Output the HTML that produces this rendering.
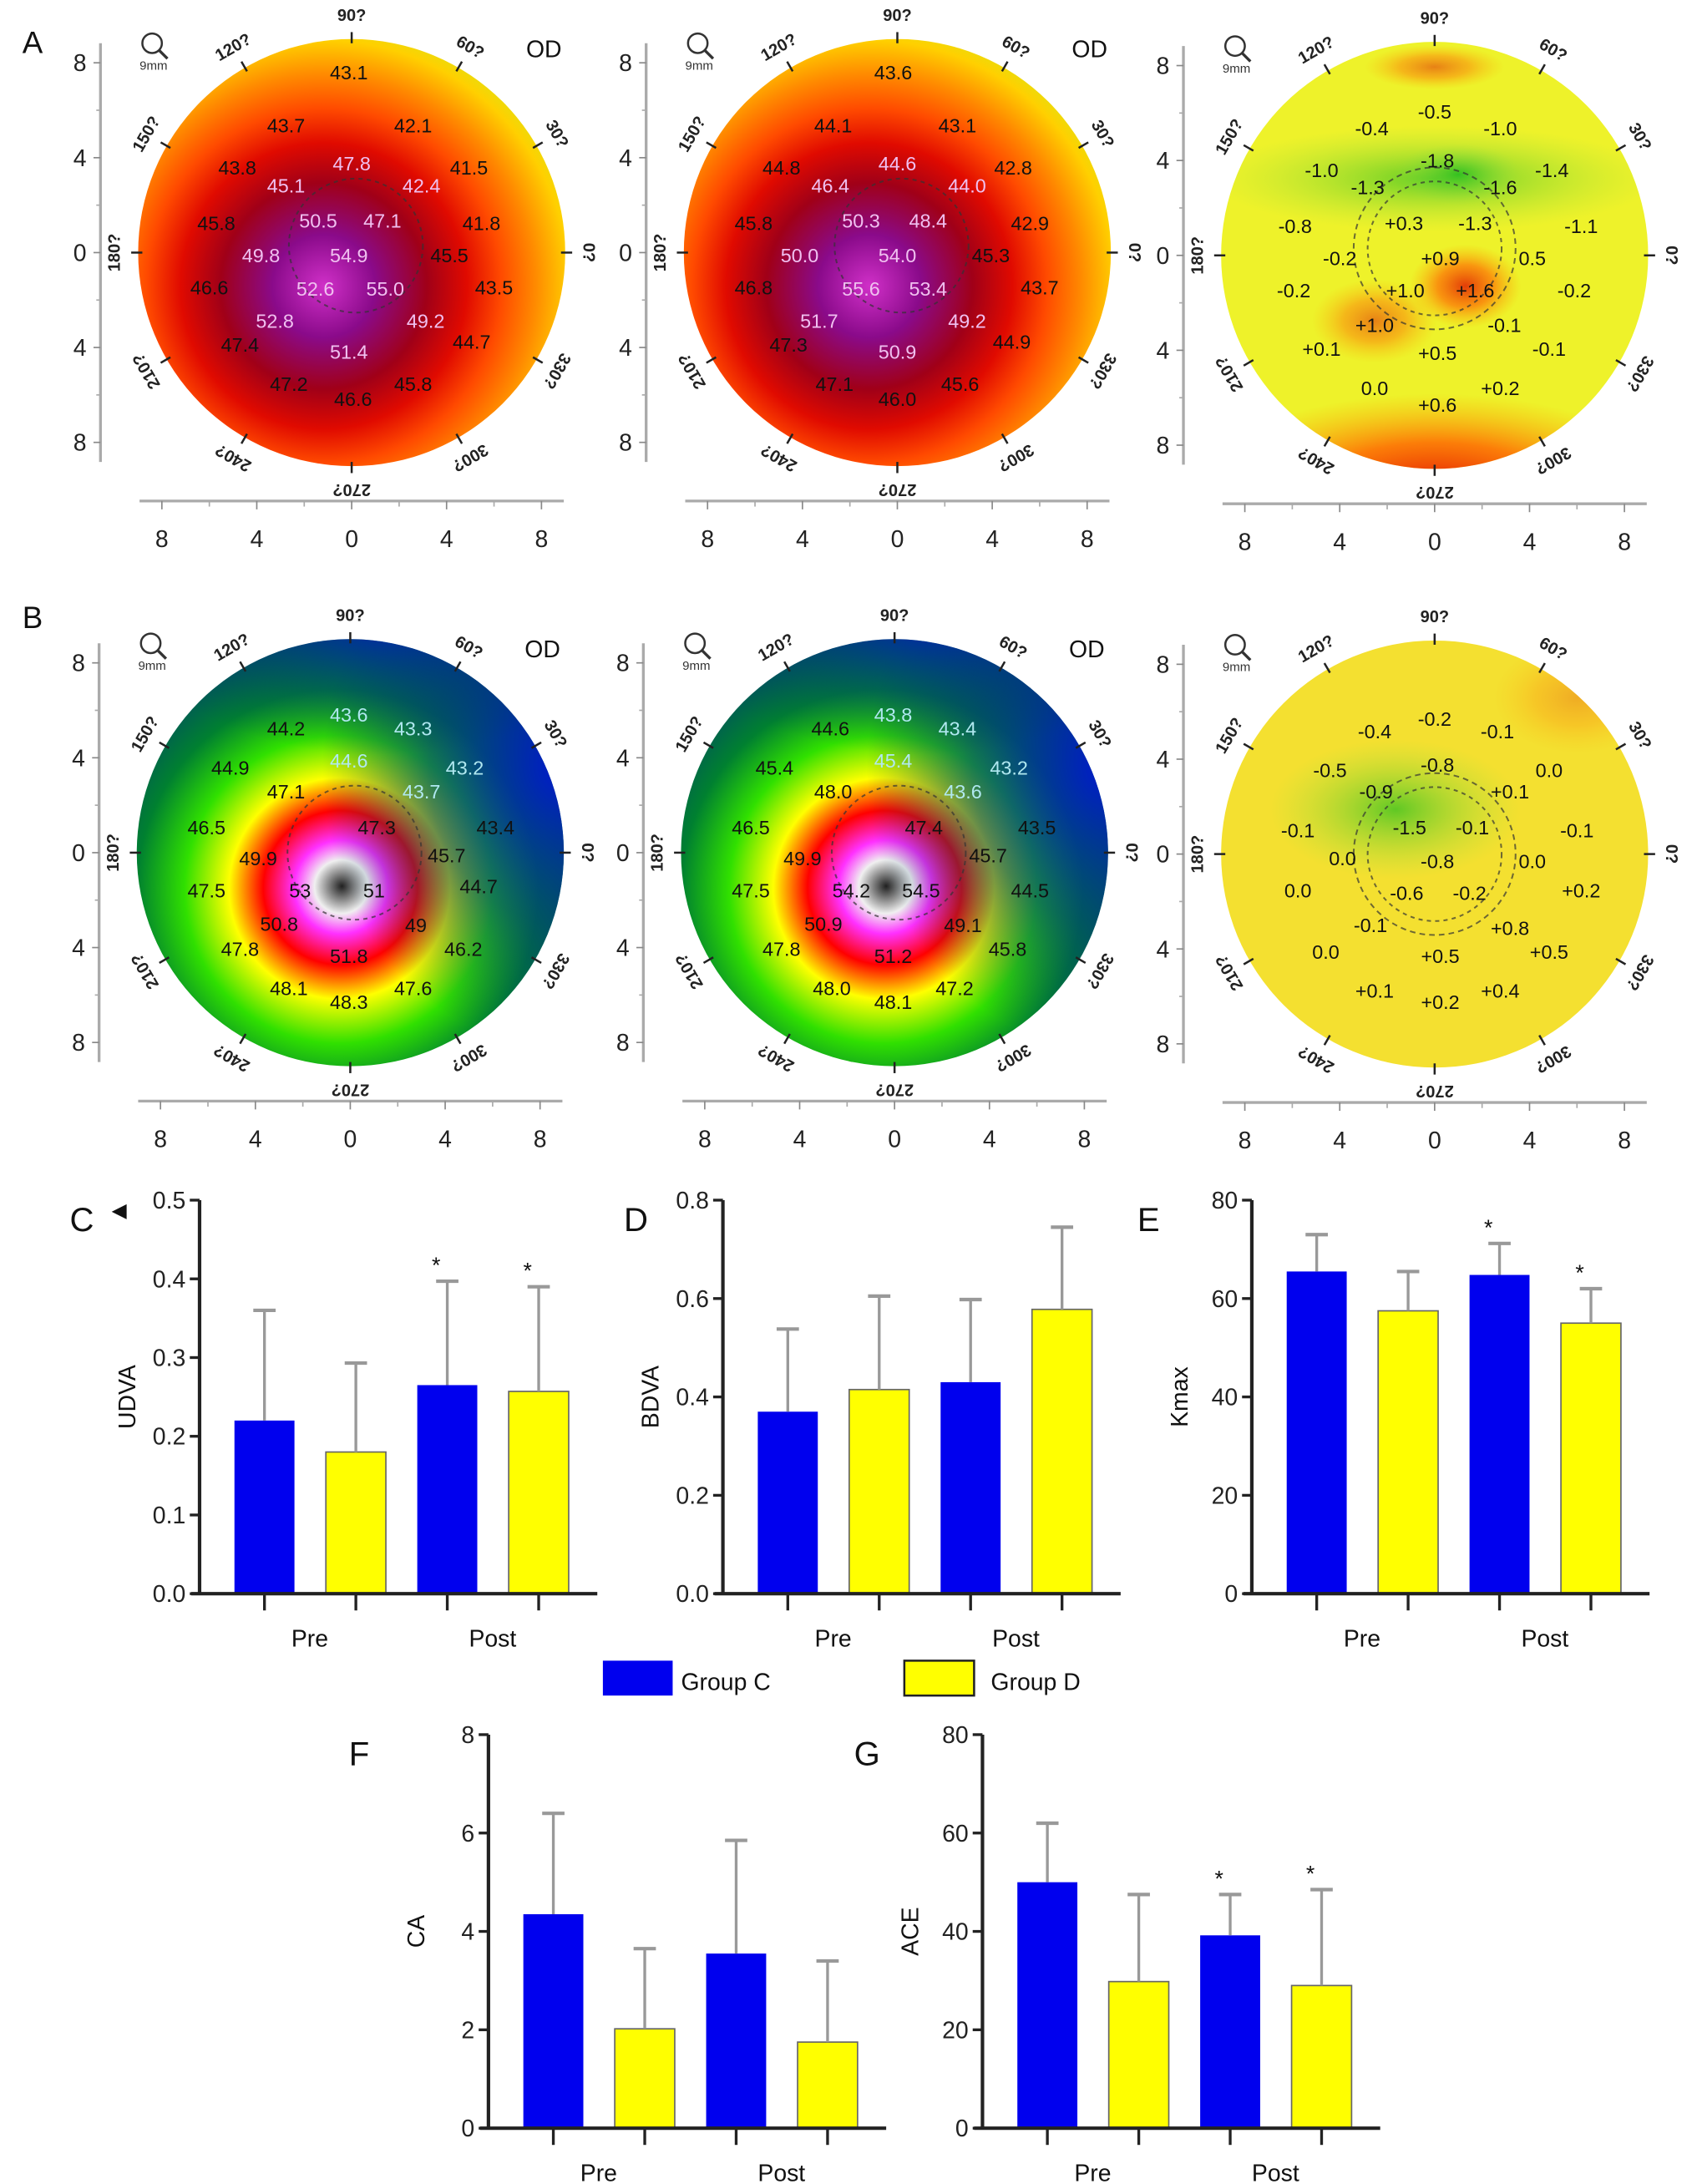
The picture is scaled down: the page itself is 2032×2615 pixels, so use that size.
<!DOCTYPE html>
<html><head><meta charset="utf-8"><style>
html,body{margin:0;padding:0;background:#fff;width:2032px;height:2615px;overflow:hidden}
svg{display:block;font-family:"Liberation Sans",Arial,sans-serif}
</style></head><body>
<svg id="fig" width="2032" height="2615" viewBox="0 0 1216 1565" preserveAspectRatio="none" xmlns="http://www.w3.org/2000/svg">
<defs>
<radialGradient id="gA1" gradientUnits="userSpaceOnUse" cx="232" cy="205" r="205" fx="232" fy="205">
<stop offset="0" stop-color="#d030c8"/><stop offset="0.18" stop-color="#8a0a8a"/><stop offset="0.36" stop-color="#a00018"/><stop offset="0.5" stop-color="#e00a00"/><stop offset="0.62" stop-color="#ff4a00"/><stop offset="0.74" stop-color="#ff8a00"/><stop offset="0.86" stop-color="#ffd000"/><stop offset="1" stop-color="#c8f020"/></radialGradient>
<radialGradient id="gA2" gradientUnits="userSpaceOnUse" cx="623" cy="205" r="205" fx="623" fy="205">
<stop offset="0" stop-color="#d030c8"/><stop offset="0.18" stop-color="#8a0a8a"/><stop offset="0.36" stop-color="#a00018"/><stop offset="0.5" stop-color="#e00a00"/><stop offset="0.62" stop-color="#ff4a00"/><stop offset="0.74" stop-color="#ff8a00"/><stop offset="0.86" stop-color="#ffd000"/><stop offset="1" stop-color="#c8f020"/></radialGradient>
<radialGradient id="gB1" gradientUnits="userSpaceOnUse" cx="240" cy="640" r="240" fx="245" fy="635">
<stop offset="0" stop-color="#202020"/><stop offset="0.08" stop-color="#f0f0f0"/><stop offset="0.14" stop-color="#ff30ff"/><stop offset="0.23" stop-color="#ff0000"/><stop offset="0.33" stop-color="#ffff00"/><stop offset="0.46" stop-color="#30e000"/><stop offset="0.6" stop-color="#008030"/><stop offset="0.75" stop-color="#005060"/><stop offset="0.9" stop-color="#0010e0"/><stop offset="1" stop-color="#40e0ff"/></radialGradient>
<radialGradient id="gB2" gradientUnits="userSpaceOnUse" cx="630" cy="640" r="240" fx="635" fy="635">
<stop offset="0" stop-color="#202020"/><stop offset="0.08" stop-color="#f0f0f0"/><stop offset="0.14" stop-color="#ff30ff"/><stop offset="0.23" stop-color="#ff0000"/><stop offset="0.33" stop-color="#ffff00"/><stop offset="0.46" stop-color="#30e000"/><stop offset="0.6" stop-color="#008030"/><stop offset="0.75" stop-color="#005060"/><stop offset="0.9" stop-color="#0010e0"/><stop offset="1" stop-color="#40e0ff"/></radialGradient>
<radialGradient id="gBlue"><stop offset="0" stop-color="#0018d0" stop-opacity="0.95"/><stop offset="0.55" stop-color="#003a80" stop-opacity="0.6"/><stop offset="1" stop-color="#004060" stop-opacity="0"/></radialGradient>
<radialGradient id="gGreen"><stop offset="0" stop-color="#30c020" stop-opacity="0.95"/><stop offset="1" stop-color="#a0e040" stop-opacity="0"/></radialGradient>
<radialGradient id="gRed"><stop offset="0" stop-color="#e01000"/><stop offset="0.5" stop-color="#ff6000" stop-opacity="0.8"/><stop offset="1" stop-color="#ffa000" stop-opacity="0"/></radialGradient>
<clipPath id="c1b"><circle cx="251" cy="611" r="153"/></clipPath>
<clipPath id="c2b"><circle cx="641" cy="611" r="153"/></clipPath>
<clipPath id="c3a"><circle cx="1028" cy="183" r="153"/></clipPath>
<clipPath id="c3b"><circle cx="1028" cy="612" r="153"/></clipPath>
</defs>
<g id="maps"></g>
<g id="charts"></g>
</svg>
<script>
const NS="http://www.w3.org/2000/svg";
const maps=document.getElementById('maps');
const charts=document.getElementById('charts');
function mk(p,tag,at,txt){const e=document.createElementNS(NS,tag);for(const k in at)e.setAttribute(k,at[k]);if(txt!==undefined)e.textContent=txt;p.appendChild(e);return e;}

// ---------- topography maps ----------
const mapCenters=[[252,181],[643,181],[1028,183],[251,611],[641,611],[1028,612]];
const mapFills=['url(#gA1)','url(#gA2)','#eef22a','url(#gB1)','url(#gB2)','#f4e030'];
const degLabels=['0?','30?','60?','90?','120?','150?','180?','210?','240?','270?','300?','330?'];
const A1=[["43.1",250,52],["43.7",205,90],["42.1",296,90],["43.8",170,120],["47.8",252,117],["41.5",336,120],["45.1",205,133],["42.4",302,133],["45.8",155,160],["50.5",228,158],["47.1",274,158],["41.8",345,160],["49.8",187,183],["54.9",250,183],["45.5",322,183],["46.6",150,206],["52.6",226,207],["55.0",276,207],["43.5",354,206],["52.8",197,230],["49.2",305,230],["44.7",338,245],["47.4",172,247],["51.4",250,252],["47.2",207,275],["45.8",296,275],["46.6",253,286]];
const A2=[["43.6",640,52],["44.1",597,90],["43.1",686,90],["44.8",560,120],["44.6",643,117],["42.8",726,120],["46.4",595,133],["44.0",693,133],["45.8",540,160],["50.3",617,158],["48.4",665,158],["42.9",738,160],["50.0",573,183],["54.0",643,183],["45.3",710,183],["46.8",540,206],["55.6",617,207],["53.4",665,207],["43.7",745,206],["51.7",587,230],["49.2",693,230],["44.9",725,245],["47.3",565,247],["50.9",643,252],["47.1",598,275],["45.6",688,275],["46.0",643,286]];
const A3=[["-0.5",1028,80],["-0.4",983,92],["-1.0",1075,92],["-1.0",947,122],["-1.8",1030,115],["-1.4",1112,122],["-1.3",980,134],["-1.6",1075,134],["-0.8",928,162],["+0.3",1006,160],["-1.3",1057,160],["-1.1",1133,162],["-0.2",960,185],["+0.9",1032,185],["0.5",1098,185],["-0.2",927,208],["+1.0",1007,208],["+1.6",1057,208],["-0.2",1128,208],["+1.0",985,233],["-0.1",1078,233],["+0.1",947,250],["+0.5",1030,253],["-0.1",1110,250],["0.0",985,278],["+0.2",1075,278],["+0.6",1030,290]];
const B1=[["43.6",250,512],["44.2",205,522],["43.3",296,522],["44.9",165,550],["44.6",250,545],["43.2",333,550],["47.1",205,567],["43.7",302,567],["46.5",148,593],["47.3",270,593],["43.4",355,593],["49.9",185,615],["45.7",320,613],["47.5",148,638],["53",215,638],["51",268,638],["44.7",343,635],["50.8",200,662],["49",298,663],["46.2",332,680],["47.8",172,680],["51.8",250,685],["48.1",207,708],["47.6",296,708],["48.3",250,718]];
const B2=[["43.8",640,512],["44.6",595,522],["43.4",686,522],["45.4",555,550],["45.4",640,545],["43.2",723,550],["48.0",597,567],["43.6",690,567],["46.5",538,593],["47.4",662,593],["43.5",743,593],["49.9",575,615],["45.7",708,613],["47.5",538,638],["54.2",610,638],["54.5",660,638],["44.5",738,638],["50.9",590,662],["49.1",690,663],["45.8",722,680],["47.8",560,680],["51.2",640,685],["48.0",596,708],["47.2",684,708],["48.1",640,718]];
const B3=[["-0.2",1028,515],["-0.4",985,524],["-0.1",1073,524],["-0.5",953,552],["-0.8",1030,548],["0.0",1110,552],["-0.9",986,567],["+0.1",1082,567],["-0.1",930,595],["-1.5",1010,593],["-0.1",1055,593],["-0.1",1130,595],["0.0",962,615],["-0.8",1030,617],["0.0",1098,617],["0.0",930,638],["-0.6",1008,640],["-0.2",1053,640],["+0.2",1133,638],["-0.1",982,663],["+0.8",1082,665],["0.0",950,682],["+0.5",1032,685],["+0.5",1110,682],["+0.1",985,710],["+0.2",1032,718],["+0.4",1075,710]];
const mapValues=[A1,A2,A3,B1,B2,B3];
const axisTicks=['8','4','0','4','8'];

mapCenters.forEach((c,i)=>{
  const [cx,cy]=c;
  const g=mk(maps,'g',{});
  
  
  const ax=cx-180;
  mk(g,'line',{x1:ax,y1:cy-150,x2:ax,y2:cy+150,stroke:'#aaa','stroke-width':2});
  axisTicks.forEach((t,k)=>{const y=cy-136+k*68;
    mk(g,'line',{x1:ax-5,y1:y,x2:ax,y2:y,stroke:'#888','stroke-width':1});
    if(k<4)mk(g,'line',{x1:ax-3,y1:y+34,x2:ax,y2:y+34,stroke:'#aaa'});
    mk(g,'text',{x:ax-10,y:y+6,'font-size':17,'text-anchor':'end',fill:'#222'},t);});
  const by=cy+178;
  mk(g,'line',{x1:cx-152,y1:by,x2:cx+152,y2:by,stroke:'#aaa','stroke-width':2});
  axisTicks.forEach((t,k)=>{const x=cx-136+k*68;
    mk(g,'line',{x1:x,y1:by,x2:x,y2:by+6,stroke:'#888'});
    if(k<4)mk(g,'line',{x1:x+34,y1:by,x2:x+34,y2:by+4,stroke:'#aaa'});
    mk(g,'text',{x:x,y:by+33,'font-size':17,'text-anchor':'middle',fill:'#222'},t);});
  mk(g,'circle',{cx:cx,cy:cy,r:153,fill:mapFills[i]});
  if(i===3||i===4){
    const cg=mk(g,'g',{'clip-path':i===3?'url(#c1b)':'url(#c2b)'});
    mk(cg,'ellipse',{cx:cx+150,cy:cy-60,rx:170,ry:200,fill:'url(#gBlue)'});
    mk(cg,'ellipse',{cx:cx+20,cy:cy-160,rx:170,ry:90,fill:'url(#gBlue)',opacity:0.6});
  }
  if(i===2||i===5){
    const cg=mk(g,'g',{'clip-path':i===2?'url(#c3a)':'url(#c3b)'});
    if(i===2){
      mk(cg,'ellipse',{cx:1028,cy:128,rx:160,ry:38,fill:'url(#gGreen)',opacity:0.8});
      mk(cg,'ellipse',{cx:1045,cy:125,rx:45,ry:22,fill:'url(#gGreen)'});
      mk(cg,'ellipse',{cx:1028,cy:352,rx:170,ry:70,fill:'url(#gRed)'});
      mk(cg,'ellipse',{cx:1050,cy:205,rx:40,ry:30,fill:'url(#gRed)',opacity:0.8});
      mk(cg,'ellipse',{cx:985,cy:230,rx:45,ry:30,fill:'url(#gRed)',opacity:0.5});
      mk(cg,'ellipse',{cx:1028,cy:48,rx:50,ry:16,fill:'url(#gRed)',opacity:0.5});
    } else {
      mk(cg,'ellipse',{cx:1000,cy:580,rx:90,ry:50,fill:'url(#gGreen)',opacity:0.8});
      mk(cg,'ellipse',{cx:1130,cy:500,rx:60,ry:40,fill:'url(#gRed)',opacity:0.25});
    }
  }
  mk(g,'circle',{cx:cx+(i%3==2?0:3),cy:cy+(i<3?-5:0),r:48,fill:'none',stroke:'#333','stroke-width':1.2,'stroke-dasharray':'3 3',opacity:0.7});
  if(i%3==2) mk(g,'circle',{cx:cx,cy:cy+(i<3?-5:0),r:58,fill:'none',stroke:'#333','stroke-width':1.2,'stroke-dasharray':'4 3',opacity:0.7});
  for(let a=0;a<360;a+=30){const r=a*Math.PI/180;
    mk(g,'line',{x1:cx+150*Math.cos(r),y1:cy-150*Math.sin(r),x2:cx+158*Math.cos(r),y2:cy-158*Math.sin(r),stroke:'#222','stroke-width':1.5});
    const lx=cx+170*Math.cos(r),ly=cy-170*Math.sin(r);
    mk(g,'text',{x:lx,y:ly+4,'font-size':12,'font-weight':'bold','text-anchor':'middle',fill:'#222',transform:`rotate(${90-a} ${lx} ${ly})`},degLabels[a/30]);}
  mk(g,'circle',{cx:ax+37,cy:cy-150,r:7,fill:'none',stroke:'#333','stroke-width':1.5});
  mk(g,'line',{x1:ax+42,y1:cy-145,x2:ax+48,y2:cy-139,stroke:'#333','stroke-width':2});
  mk(g,'text',{x:ax+38,y:cy-131,'font-size':9,'text-anchor':'middle',fill:'#333'},'9mm');
  if(i%3!==2) mk(g,'text',{x:cx+125,y:cy-140,'font-size':17,fill:'#111'},'OD');
  const light=(i===0||i===1);
  mapValues[i].forEach(v=>{
    let col='#111';
    if(light && Math.hypot(v[1]-cx,v[2]-cy)<85 && v[0]!=='45.5'&&v[0]!=='45.3') col='#f0c0f0';
    if((i===3||i===4)&&(v[2]<575&&v[1]>cx-20)) col='#b0e8f0';
    mk(g,'text',{x:v[1],y:v[2]+5,'font-size':14,'text-anchor':'middle',fill:col},v[0]);
  });
});
const lettersTop=[['A',16,38],['B',16,450]];
lettersTop.forEach(l=>{const t=mk(maps,'text',{x:l[1],y:l[2],'font-size':22,fill:'#111'},l[0]);
 
 });

// ---------- bar charts ----------
const groups=['Pre','Post'];
const udvaMean=[0.22,0.18,0.265,0.257];
const udvaErr=[0.36,0.293,0.397,0.39];
const bdvaMean=[0.37,0.415,0.43,0.578];
const bdvaErr=[0.538,0.605,0.598,0.745];
const kmaxMean=[65.5,57.5,64.8,55];
const kmaxErr=[73,65.5,71.2,62];
const caMean=[4.35,2.02,3.55,1.75];
const caErr=[6.4,3.65,5.85,3.4];
const aceMean=[50,29.8,39.2,29];
const aceErr=[62,47.5,47.5,48.5];
const udvaTicks=['0.0','0.1','0.2','0.3','0.4','0.5'];
const bdvaTicks=['0.0','0.2','0.4','0.6','0.8'];
const kmaxTicks=['0','20','40','60','80'];
const caTicks=['0','2','4','6','8'];
const aceTicks=['0','20','40','60','80'];
const colors=['#0000ee','#ffff00','#0000ee','#ffff00'];

function chart(o){
  const g=mk(charts,'g',{});
  
  
  const max=parseFloat(o.ticks[o.ticks.length-1]);
  const y=v=>o.y0-(v/max)*(o.y0-o.yTop);
  const bx=k=>o.ax+25+k*65.5;
  o.mean.forEach((m,k)=>{
    const r=mk(g,'rect',{x:bx(k),y:y(m),width:43,height:o.y0-y(m),fill:colors[k],stroke:k%2?'#666':'none','stroke-width':1});
    
    
    const cxm=bx(k)+21.5;
    const e=mk(g,'line',{x1:cxm,y1:y(m),x2:cxm,y2:y(o.err[k]),stroke:'#999','stroke-width':2});
    
    
    mk(g,'line',{x1:cxm-8,y1:y(o.err[k]),x2:cxm+8,y2:y(o.err[k]),stroke:'#999','stroke-width':2.5});
    if(o.stars&&k>=2)mk(g,'text',{x:cxm-8,y:y(o.err[k])-6,'font-size':16,'text-anchor':'middle',fill:'#111'},'*');
    mk(g,'line',{x1:cxm,y1:o.y0,x2:cxm,y2:o.y0+12,stroke:'#222','stroke-width':2});
  });
  mk(g,'line',{x1:o.ax,y1:o.yTop,x2:o.ax,y2:o.y0+1,stroke:'#222','stroke-width':2.5});
  mk(g,'line',{x1:o.ax-6,y1:o.y0,x2:o.ax+285,y2:o.y0,stroke:'#222','stroke-width':2.5});
  o.ticks.forEach((t,k)=>{const v=parseFloat(t);
    mk(g,'line',{x1:o.ax-7,y1:y(v),x2:o.ax,y2:y(v),stroke:'#222','stroke-width':2});
    mk(g,'text',{x:o.ax-10,y:y(v)+6,'font-size':17,'text-anchor':'end',fill:'#222'},t);});
  groups.forEach((gr,k)=>{const t=mk(g,'text',{x:bx(2*k)+54,y:o.y0+38,'font-size':17,'text-anchor':'middle',fill:'#111'},gr);
    
    });
  const yl=(o.yTop+o.y0)/2;
  const t=mk(g,'text',{x:o.ax-46,y:yl,'font-size':17,'text-anchor':'middle',fill:'#111',transform:`rotate(-90 ${o.ax-46} ${yl})`},o.label);
  
  
  const L=mk(g,'text',{x:o.lx,y:o.yTop+22,'font-size':24,fill:'#111'},o.letter);
  
  
}
chart({name:'udva',label:'UDVA',letter:'C',lx:50,ax:143,yTop:860,y0:1142,mean:udvaMean,err:udvaErr,ticks:udvaTicks,stars:true});
chart({name:'bdva',label:'BDVA',letter:'D',lx:447,ax:518,yTop:860,y0:1142,mean:bdvaMean,err:bdvaErr,ticks:bdvaTicks});
chart({name:'kmax',label:'Kmax',letter:'E',lx:815,ax:897,yTop:860,y0:1142,mean:kmaxMean,err:kmaxErr,ticks:kmaxTicks,stars:true});
chart({name:'ca',label:'CA',letter:'F',lx:250,ax:350,yTop:1243,y0:1525,mean:caMean,err:caErr,ticks:caTicks});
chart({name:'ace',label:'ACE',letter:'G',lx:612,ax:704,yTop:1243,y0:1525,mean:aceMean,err:aceErr,ticks:aceTicks,stars:true});
mk(charts,'text',{x:80,y:872,'font-size':14,fill:'#111'},'◀');

const lg=mk(charts,'g',{});


const l1=mk(lg,'rect',{x:432,y:1190,width:50,height:25,fill:'#0000ee'});


mk(lg,'text',{x:488,y:1211,'font-size':17,fill:'#111'},'Group C');
const l2=mk(lg,'rect',{x:648,y:1190,width:50,height:25,fill:'#ffff00',stroke:'#222','stroke-width':1.5});


mk(lg,'text',{x:710,y:1211,'font-size':17,fill:'#111'},'Group D');
</script>
</body></html>
